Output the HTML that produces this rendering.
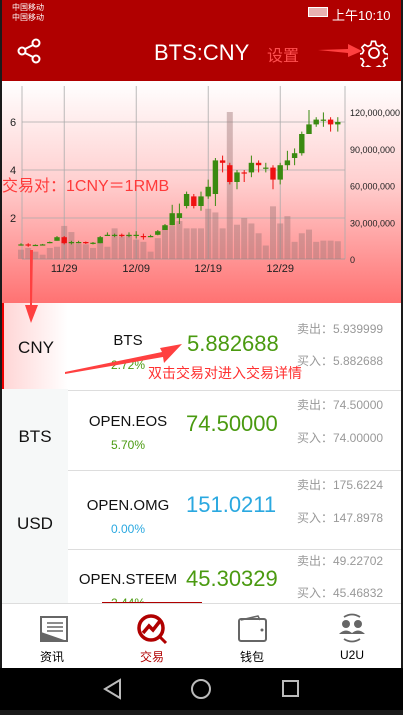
<!DOCTYPE html>
<html><head><meta charset="utf-8">
<style>
*{margin:0;padding:0;box-sizing:border-box}
body{width:403px;height:710px;overflow:hidden;background:#1a1a1a;font-family:"Liberation Sans","Noto Sans CJK SC",sans-serif;position:relative}
.abs{position:absolute}
#app{position:absolute;left:2px;top:0;width:399px;height:668px;background:#fff;overflow:hidden}
#header{left:0;top:0;width:399px;height:81px;background:#b00000;color:#fff}
#chartbox{left:0;top:81px;width:399px;height:222px;background:linear-gradient(#fff 0%,#ffd0d0 45%,#ff7272 100%)}
.tab{left:0;width:66px;font-size:17px;color:#111;text-align:center;background:#f6f8f8}
.row{left:66px;width:333px;border-bottom:1px solid #ddd}
.name{position:absolute;width:120px;text-align:center;font-size:15px;color:#111}
.pct{position:absolute;width:120px;text-align:center;font-size:12px}
.price{position:absolute;left:118px;font-size:22px}
.side{position:absolute;left:229px;font-size:12px;color:#999}
.nav{font-size:12px;text-align:center;width:100px}
</style></head><body>
<div id="app">
<div id="header" class="abs">
 <div class="abs" style="left:10px;top:3px;font-size:8px;line-height:10px">中国移动<br>中国移动</div>
 <div class="abs" style="left:330px;top:5px;font-size:13px">上午10:10</div>
 <div class="abs" style="left:306px;top:7px;width:20px;height:10px;border:1px solid #fff;background:#e8b0b0"></div>
 <svg class="abs" style="left:15px;top:38px" width="26" height="26"><g stroke="#fff" stroke-width="2" fill="none"><circle cx="19" cy="5" r="3.5"/><circle cx="5" cy="13" r="3.5"/><circle cx="19" cy="21" r="3.5"/><line x1="8" y1="11" x2="16" y2="7"/><line x1="8" y1="15" x2="16" y2="19"/></g></svg>
 <div class="abs" style="left:152px;top:40px;font-size:22px">BTS:CNY</div>
 <div class="abs" style="left:265px;top:42px;font-size:16px;color:#ff5050">设置</div>
 <svg class="abs" style="left:316px;top:44px" width="44" height="14"><polygon points="0,6 30,5 30,0 44,7 30,13 30,9" fill="#ff4040"/></svg>
 <svg class="abs" style="left:358px;top:39px" width="28" height="28"><g stroke="#fff" stroke-width="1.8" fill="none"><circle cx="14" cy="14" r="5"/><path d="M12 2h4l1 4 3 1.5 3.5-2 3 3-2 3.5 1.5 3 4 1v4l-4 1-1.5 3 2 3.5-3 3-3.5-2-3 1.5-1 4h-4l-1-4-3-1.5-3.5 2-3-3 2-3.5-1.5-3-4-1v-4l4-1 1.5-3-2-3.5 3-3 3.5 2 3-1.5z" transform="translate(0.5,0.5) scale(0.93)"/></g></svg>
</div>
<div id="chartbox" class="abs">
<svg id="chart" width="399" height="222"></svg>
</div>
<div class="abs tab" style="top:303px;height:86px;line-height:90px;background:linear-gradient(90deg,#ffd6d6,#fff);border-left:2px solid #e00">CNY</div>
<div class="abs tab" style="top:389px;height:90px;line-height:96px">BTS</div>
<div class="abs tab" style="top:479px;height:90px;line-height:90px">USD</div>
<div class="abs tab" style="top:569px;height:34px"></div>
<svg class="abs" style="left:20px;top:250px" width="20" height="75"><polygon points="8,0 11,0 10,55 16,55 9,73 3,55 8,55" fill="#ff4040"/></svg>
<div class="abs row" style="top:303px;height:88px">
 <div class="name" style="left:0;top:29px">BTS</div><div class="pct" style="left:0;top:55px;color:#4a9a10">2.72%</div>
 <div class="price" style="top:28px;left:119px;color:#4a9a10">5.882688</div>
 <div class="side" style="top:17px">卖出：5.939999</div><div class="side" style="top:49px">买入：5.882688</div>
</div>
<div class="abs" style="left:146px;top:363px;font-size:14px;color:#ff3030">双击交易对进入交易详情</div>
<svg class="abs" style="left:60px;top:335px" width="125" height="40"><polygon points="3,37 100,17 98,13 120,9 102,28 101,22 3,39" fill="#ff4040"/></svg>
<div class="abs row" style="top:391px;height:80px">
 <div class="name" style="left:0;top:22px">OPEN.EOS</div><div class="pct" style="left:0;top:47px;color:#4a9a10">5.70%</div>
 <div class="price" style="top:20px;color:#4a9a10">74.50000</div>
 <div class="side" style="top:5px">卖出：74.50000</div><div class="side" style="top:38px">买入：74.00000</div>
</div>
<div class="abs row" style="top:471px;height:79px">
 <div class="name" style="left:0;top:26px">OPEN.OMG</div><div class="pct" style="left:0;top:51px;color:#2aa8e0">0.00%</div>
 <div class="price" style="top:21px;color:#2aa8e0">151.0211</div>
 <div class="side" style="top:5px">卖出：175.6224</div><div class="side" style="top:38px">买入：147.8978</div>
</div>
<div class="abs row" style="top:550px;height:53px;border:none">
 <div class="name" style="left:0;top:21px">OPEN.STEEM</div><div class="pct" style="left:0;top:46px;color:#4a9a10">2.44%</div>
 <div class="price" style="top:16px;color:#4a9a10">45.30329</div>
 <div class="side" style="top:2px">卖出：49.22702</div><div class="side" style="top:34px">买入：45.46832</div>
</div>
<div class="abs" style="left:100px;top:602px;width:100px;height:2px;background:#b00000"></div>
<div class="abs" style="left:0;top:603px;width:399px;height:65px;background:#fff;border-top:1px solid #ddd">
 <div class="abs nav" style="left:0;top:44px">资讯</div>
 <div class="abs nav" style="left:100px;top:44px;color:#b00000">交易</div>
 <div class="abs nav" style="left:200px;top:44px">钱包</div>
 <div class="abs nav" style="left:300px;top:44px">U2U</div>
 <svg class="abs" style="left:35px;top:10px" width="32" height="30"><rect x="4" y="3" width="26" height="24" fill="none" stroke="#666" stroke-width="2"/><path d="M4 27 L30 27 L4 18z" fill="#666"/><g stroke="#666" stroke-width="1.5"><line x1="10" y1="9" x2="26" y2="9"/><line x1="10" y1="13" x2="26" y2="13"/><line x1="10" y1="17" x2="26" y2="17"/></g></svg>
 <svg class="abs" style="left:134px;top:9px" width="32" height="32"><circle cx="15" cy="15" r="12" fill="none" stroke="#b00000" stroke-width="3.5"/><path d="M7 20 L13 13 L17 17 L24 8" stroke="#b00000" stroke-width="3.5" fill="none"/><line x1="24" y1="24" x2="30" y2="30" stroke="#b00000" stroke-width="3"/></svg>
 <svg class="abs" style="left:234px;top:10px" width="32" height="30"><rect x="3" y="5" width="27" height="22" rx="2" fill="none" stroke="#666" stroke-width="2"/><path d="M5 6 L22 2 L24 6" fill="none" stroke="#666" stroke-width="1.5"/><circle cx="26" cy="16" r="1.5" fill="#666"/></svg>
 <svg class="abs" style="left:334px;top:8px" width="32" height="32"><circle cx="10" cy="12" r="4" fill="#666"/><circle cx="22" cy="12" r="4" fill="#666"/><path d="M3 22 Q10 15 17 22z M15 22 Q22 15 29 22z" fill="#666"/><path d="M8 5 Q16 0 24 5 M8 27 Q16 32 24 27" stroke="#666" stroke-width="1.8" fill="none"/></svg>
</div>
</div>
<div class="abs" style="left:0;top:668px;width:403px;height:42px;background:#000">
 <svg width="403" height="42"><polygon points="120,12 105,21 120,30" fill="none" stroke="#bbb" stroke-width="2"/><circle cx="201" cy="21" r="9" fill="none" stroke="#bbb" stroke-width="2"/><rect x="283" y="13" width="15" height="15" fill="none" stroke="#bbb" stroke-width="2"/></svg>
</div>
<div class="abs" style="left:2px;top:172px;font-size:16px;color:#ff3a3a">交易对：1CNY＝1RMB</div>
<script>
const dateLabels=["11/29","12/09","12/19","12/29"];
const dateIdx=[6,16,26,36];
const priceTicks=[2,4,6];
const volTicks=[0,30,60,90,120];
const opens=[0.9,0.9,0.88,0.9,0.95,1.05,1.2,0.95,1.0,1.0,0.95,0.95,1.3,1.25,1.3,1.25,1.3,1.25,1.25,1.3,1.5,1.7,2.0,2.5,2.9,2.5,2.9,3.0,4.4,4.2,3.5,3.9,3.9,4.3,4.1,4.1,3.6,4.2,4.5,4.7,5.5,5.9,6.1,6.1,5.9];
const closes=[0.9,0.88,0.88,0.9,1.0,1.2,0.95,1.0,1.0,0.95,0.97,1.2,1.3,1.3,1.25,1.3,1.3,1.22,1.25,1.45,1.7,2.2,2.2,3.0,2.5,2.9,3.3,4.4,4.3,3.5,3.9,3.85,4.3,4.2,4.1,3.6,4.2,4.4,4.7,5.5,5.9,6.1,6.1,5.9,6.0];
const highs=[0.95,0.95,0.9,0.92,1.02,1.25,1.25,1.05,1.05,1.02,1.0,1.25,1.4,1.35,1.35,1.4,1.45,1.35,1.3,1.5,1.75,2.55,2.6,3.1,3.0,3.1,3.6,4.5,4.6,4.3,4.0,4.0,4.6,4.4,4.3,4.2,4.3,4.8,4.9,5.6,6.5,6.2,6.4,6.2,6.2];
const lows=[0.85,0.8,0.85,0.88,0.95,1.05,0.9,0.9,0.95,0.92,0.9,0.95,1.25,1.2,1.2,1.2,1.15,1.1,1.2,1.28,1.5,1.7,1.75,2.4,2.4,2.3,2.8,2.5,3.9,3.4,3.2,3.5,3.7,3.9,3.9,3.2,3.4,4.0,4.2,4.6,5.5,5.8,5.8,5.6,5.6];
const volumes=[7.6,9,6,3.5,9,10,27,22,12.5,12,9,18,10,25,18.5,19.6,15.8,14,6,17,27,27,31,25,25,25,41,38,25,120,28,33.5,29,21,11,43,29,35,14,21,24,14,15,15,14.5];
const NS="http://www.w3.org/2000/svg";
const svg=document.getElementById('chart');
const X0=19,STEP=7.2,PB=185,PPU=24,VB=178,VPM=147/120;
const xs=i=>X0+i*STEP;
const py=v=>PB-v*PPU;
const vy=v=>VB-v*VPM;
function mk(t,a){const e=document.createElementNS(NS,t);for(const k in a)e.setAttribute(k,a[k]);svg.appendChild(e);return e;}
[20,343].concat(dateIdx.map(xs)).forEach(x=>{const l=mk('line',{x1:x,y1:5,x2:x,y2:VB,stroke:'#aaa','stroke-width':0.8});

});
priceTicks.forEach(v=>{const l=mk('line',{x1:20,y1:py(v),x2:343,y2:py(v),stroke:'#aaa','stroke-width':0.8});


const t=mk('text',{x:8,y:py(v)+4,'font-size':11,fill:'#222'});t.textContent=v;

});
const bl=mk('line',{x1:20,y1:VB,x2:343,y2:VB,stroke:'#999','stroke-width':0.8});


volTicks.forEach(v=>{const t=mk('text',{x:348,y:vy(v)+4,'font-size':9,fill:'#222'});t.textContent=v===0?'0':(v*1000000).toLocaleString('en-US');

});
dateLabels.forEach((d,i)=>{const t=mk('text',{x:xs(dateIdx[i]),y:191,'font-size':11,fill:'#222','text-anchor':'middle'});t.textContent=d;

});
volumes.forEach((v,i)=>{const r=mk('rect',{x:xs(i)-3,y:vy(v),width:6,height:VB-vy(v),fill:'rgba(160,120,120,0.45)'});

});
opens.forEach((o,i)=>{const c=closes[i],col=c>=o?'#3a8a10':'#ee1111';
const w=mk('line',{x1:xs(i),y1:py(highs[i]),x2:xs(i),y2:py(lows[i]),stroke:col,'stroke-width':1});


const top=py(Math.max(o,c)),h=Math.max(1.2,Math.abs(py(o)-py(c)));
const r=mk('rect',{x:xs(i)-2.7,y:top,width:5.4,height:h,fill:col});

});
</script>
</body></html>
